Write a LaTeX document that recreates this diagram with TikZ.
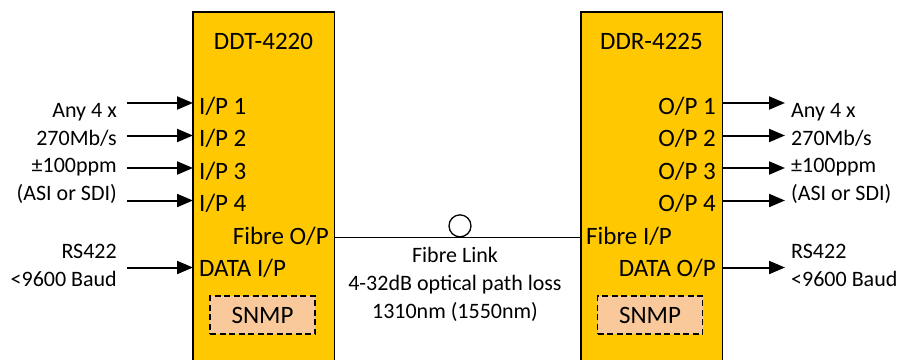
\documentclass[tikz,border=0pt]{standalone}
\usepackage{fontspec}
\setmainfont{Carlito}
\usetikzlibrary{arrows.meta,positioning,calc}
\definecolor{UnitGold}{HTML}{FFC800}
\definecolor{SnmpPeach}{HTML}{F9C99B}
\tikzset{
  unit/.style={fill=UnitGold, minimum width=141pt, minimum height=348pt,
               inner sep=0pt, anchor=north west},
  unitedge/.style={line width=1.7pt, draw=black},
  port/.style={font=\fontsize{25}{30}\selectfont, inner sep=0pt},
  ext/.style={font=\fontsize{22}{27.8}\selectfont, inner sep=0pt},
  sig/.style={-{Triangle[length=16pt,width=13pt]}, line width=2pt},
  fibre/.style={line width=1.3pt},
  coupler/.style={circle, draw, line width=1.3pt, minimum size=22pt, inner sep=0pt, anchor=south},
  snmp/.style={fill=SnmpPeach, draw=black, dash pattern=on 6pt off 3.5pt, line width=1.5pt,
               minimum width=105pt, minimum height=38pt, inner sep=0pt,
               font=\fontsize{25}{30}\selectfont},
}
\begin{document}
\begin{tikzpicture}[x=1pt,y=-1pt]
  \useasboundingbox (0,0) rectangle (900,360);
  % transmitter and receiver units
  \node[unit] (ddt) at (193,12) {};
  \node[unit] (ddr) at (581,12) {};
  \draw[unitedge] (ddt.south west) -- (ddt.north west) -- (ddt.north east) -- (ddt.south east);
  \draw[unitedge] (ddr.south west) -- (ddr.north west) -- (ddr.north east) -- (ddr.south east);
  \node[port,anchor=base] (ddtname) at (263.5,49) {DDT-4220};
  \node[port,anchor=base] (ddrname) at (651.5,49) {DDR-4225};
  % port labels
  \foreach \i/\y in {1/114,2/146.5,3/179,4/211.5} {
    \node[port,anchor=base west] (ip\i) at (199,\y) {I/P \i};
    \node[port,anchor=base east] (op\i) at (716,\y) {O/P \i};
  }
  \node[port,anchor=base east] (fibout) at (329,244) {Fibre O/P};
  \node[port,anchor=base west] (datain) at (199,276) {DATA I/P};
  \node[port,anchor=base west] (fibin) at (586,244) {Fibre I/P};
  \node[port,anchor=base east] (dataout) at (716,276) {DATA O/P};
  \node[snmp] (snmpt) at (262.5,315) {SNMP};
  \node[snmp] (snmpr) at (650,315) {SNMP};
  % video inputs and outputs
  \foreach \i/\y in {1/103,2/135.5,3/168,4/200.5} {
    \coordinate (in\i) at (127,\y);
    \coordinate (out\i) at (785,\y);
    \draw[sig] (in\i) -- (in\i -| ddt.west);
    \draw[sig] (out\i -| ddr.east) -- (out\i);
  }
  \coordinate (dtin) at (127,267.5);
  \coordinate (dtout) at (785,267.5);
  \draw[sig] (dtin) -- (dtin -| ddt.west);
  \draw[sig] (dtout -| ddr.east) -- (dtout);
  \node[ext,align=right,anchor=base east] (vidin) at (117,200.7) {Any 4 x\\270Mb/s\\±100ppm\\(ASI or SDI)};
  \node[ext,align=left,anchor=base west] (vidout) at (791,200.7) {Any 4 x\\270Mb/s\\±100ppm\\(ASI or SDI)};
  \node[ext,align=right,anchor=base east] (rsin) at (117,286) {RS422\\<9600 Baud};
  \node[ext,align=left,anchor=base west] (rsout) at (791,286) {RS422\\<9600 Baud};
  % fibre link
  \coordinate (fib) at (460,237.5);
  \draw[fibre] (fib -| ddt.east) -- (fib -| ddr.west);
  \node[coupler] (conn) at (fib) {};
  \node[ext,align=center,anchor=base] (linknote) at (455,318.3) {Fibre Link\\4-32dB optical path loss\\1310nm (1550nm)};
\end{tikzpicture}
\end{document}
